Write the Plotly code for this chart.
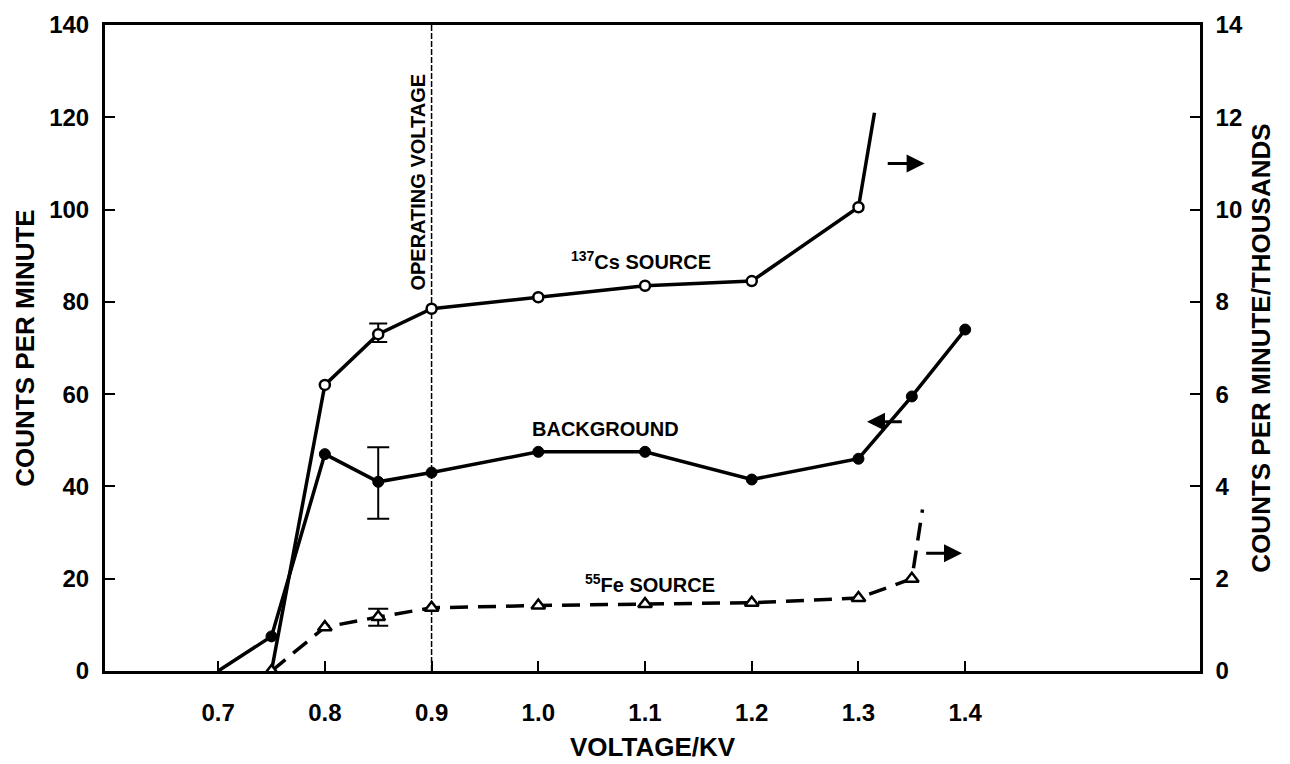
import plotly.graph_objects as go

# ---- data ----
bg_x = [0.70, 0.75, 0.80, 0.85, 0.90, 1.00, 1.10, 1.20, 1.30, 1.35, 1.40]
bg_y = [0.0, 7.5, 47.0, 41.0, 43.0, 47.5, 47.5, 41.5, 46.0, 59.5, 74.0]

cs_x = [0.75, 0.80, 0.85, 0.90, 1.00, 1.10, 1.20, 1.30, 1.315]
cs_y = [0.0, 6.2, 7.3, 7.85, 8.1, 8.35, 8.45, 10.05, 12.1]   # thousands

fe_x = [0.75, 0.80, 0.85, 0.90, 1.00, 1.10, 1.20, 1.30, 1.35, 1.36]
fe_y = [0.0, 0.95, 1.17, 1.37, 1.42, 1.45, 1.48, 1.58, 2.0, 3.5]  # thousands

# error bars (only at 0.85 kV)
err_x = [0.85]
bg_err_y, bg_err_plus, bg_err_minus = [41.0], [7.5], [8.0]
cs_err_y, cs_err_plus, cs_err_minus = [7.3], [0.23], [0.17]
fe_err_y, fe_err_plus, fe_err_minus = [1.17], [0.18], [0.19]

x_ticks = [0.7, 0.8, 0.9, 1.0, 1.1, 1.2, 1.3, 1.4]
x_ticklabels = ["0.7", "0.8", "0.9", "1.0", "1.1", "1.2", "1.3", "1.4"]
y_left_ticks = [0, 20, 40, 60, 80, 100, 120, 140]
y_right_ticks = [0, 2, 4, 6, 8, 10, 12, 14]
operating_voltage = 0.9

FONT = "Liberation Sans, Arial, Helvetica, sans-serif"
BLACK = "#000000"

bg_sizes = [0] + [11] * (len(bg_x) - 1)
cs_sizes = [0] + [10] * (len(cs_x) - 2) + [0]
fe_sizes = [12] * (len(fe_x) - 1) + [0]

fig = go.Figure()

# operating voltage line
fig.add_trace(go.Scatter(
    x=[operating_voltage, operating_voltage], y=[0, 140], mode="lines",
    line=dict(color=BLACK, width=1.5, dash="6px,2px"), yaxis="y",
    showlegend=False, hoverinfo="skip"))

# error bars drawn first (under markers)
fig.add_trace(go.Scatter(
    x=err_x, y=bg_err_y, mode="markers", yaxis="y",
    marker=dict(size=0.1, color=BLACK),
    error_y=dict(type="data", array=bg_err_plus, arrayminus=bg_err_minus,
                 color=BLACK, thickness=2, width=11),
    showlegend=False, hoverinfo="skip"))
fig.add_trace(go.Scatter(
    x=err_x, y=cs_err_y, mode="markers", yaxis="y2",
    marker=dict(size=0.1, color=BLACK),
    error_y=dict(type="data", array=cs_err_plus, arrayminus=cs_err_minus,
                 color=BLACK, thickness=2, width=9),
    showlegend=False, hoverinfo="skip"))
fig.add_trace(go.Scatter(
    x=err_x, y=fe_err_y, mode="markers", yaxis="y2",
    marker=dict(size=0.1, color=BLACK),
    error_y=dict(type="data", array=fe_err_plus, arrayminus=fe_err_minus,
                 color=BLACK, thickness=2, width=10),
    showlegend=False, hoverinfo="skip"))

fig.add_trace(go.Scatter(
    x=bg_x, y=bg_y, mode="lines+markers", yaxis="y",
    line=dict(color=BLACK, width=3.5),
    marker=dict(symbol="circle", size=bg_sizes, color=BLACK,
                opacity=1, line=dict(color=BLACK, width=1)),
    showlegend=False))

fig.add_trace(go.Scatter(
    x=cs_x, y=cs_y, mode="lines+markers", yaxis="y2",
    line=dict(color=BLACK, width=3.5),
    marker=dict(symbol="circle", size=cs_sizes, color="#ffffff",
                opacity=1, line=dict(color=BLACK, width=2.5)),
    showlegend=False))

fig.add_trace(go.Scatter(
    x=fe_x, y=fe_y, mode="lines+markers", yaxis="y2",
    line=dict(color=BLACK, width=3.5, dash="18px,10px"),
    marker=dict(symbol="triangle-up", size=fe_sizes, color="#ffffff",
                opacity=1, line=dict(color=BLACK, width=2.5)),
    showlegend=False))

ann_font = dict(family=FONT, size=20, color=BLACK, weight="bold")
annotations = [
    dict(x=1.096, y=89, xref="x", yref="y", text="<sup>137</sup>Cs SOURCE",
         showarrow=False, font=ann_font),
    dict(x=1.063, y=52.5, xref="x", yref="y", text="BACKGROUND",
         showarrow=False, font=ann_font),
    dict(x=1.105, y=19, xref="x", yref="y", text="<sup>55</sup>Fe SOURCE",
         showarrow=False, font=ann_font),
    dict(x=0.887, y=106, xref="x", yref="y", text="OPERATING VOLTAGE",
         textangle=-90, showarrow=False, font=ann_font),
    # direction arrows
    dict(x=1.362, y=11.0, ax=1.326, ay=11.0, xref="x", yref="y2",
         axref="x", ayref="y2", text="", showarrow=True, arrowhead=2,
         arrowsize=1.2, arrowwidth=3, arrowcolor=BLACK),
    dict(x=1.308, y=54.0, ax=1.342, ay=54.0, xref="x", yref="y",
         axref="x", ayref="y", text="", showarrow=True, arrowhead=2,
         arrowsize=1.2, arrowwidth=3, arrowcolor=BLACK),
    dict(x=1.397, y=2.55, ax=1.362, ay=2.55, xref="x", yref="y2",
         axref="x", ayref="y2", text="", showarrow=True, arrowhead=2,
         arrowsize=1.2, arrowwidth=3, arrowcolor=BLACK),
]

tick_font = dict(family=FONT, size=24, color=BLACK, weight="bold")
title_font = dict(family=FONT, size=26, color=BLACK, weight="bold")

fig.update_layout(
    width=1290, height=764,
    margin=dict(l=105, r=90, t=25, b=93, autoexpand=False),
    paper_bgcolor="white", plot_bgcolor="white",
    font=dict(family=FONT, color=BLACK, weight="bold"),
    annotations=annotations,
    xaxis=dict(
        range=[0.594, 1.62], tickvals=x_ticks, ticktext=x_ticklabels,
        ticks="inside", ticklen=10, tickwidth=2, tickcolor=BLACK,
        ticklabelstandoff=18, automargin=False,
        showline=True, linewidth=3, linecolor=BLACK, mirror=True,
        showgrid=False, zeroline=False, tickfont=tick_font,
        title=dict(text="VOLTAGE/KV", font=title_font, standoff=14)),
    yaxis=dict(
        range=[0, 140], tickvals=y_left_ticks,
        ticks="inside", ticklen=10, tickwidth=2, tickcolor=BLACK,
        ticklabelstandoff=8, automargin=False,
        showline=True, linewidth=3, linecolor=BLACK,
        showgrid=False, zeroline=False, tickfont=tick_font,
        title=dict(text="COUNTS PER MINUTE", font=title_font, standoff=8)),
    yaxis2=dict(
        range=[0, 14], tickvals=y_right_ticks, overlaying="y", side="right",
        ticks="inside", ticklen=10, tickwidth=2, tickcolor=BLACK,
        ticklabelstandoff=8, automargin=False,
        showline=True, linewidth=2.5, linecolor=BLACK,
        showgrid=False, zeroline=False, tickfont=tick_font,
        title=dict(text="COUNTS PER MINUTE/THOUSANDS", font=title_font,
                   standoff=10)),
)

fig.write_html("out.html")
